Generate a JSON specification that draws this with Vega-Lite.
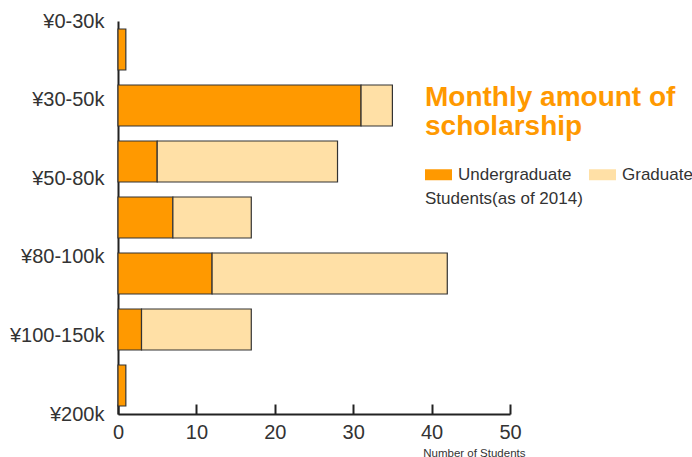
{
  "$schema": "https://vega.github.io/schema/vega-lite/v6.json",
  "width": 392,
  "height": 393,
  "autosize": {"type": "none"},
  "padding": {"left": 118, "top": 21, "right": 182, "bottom": 43},
  "background": "white",
  "config": {"view": {"stroke": null}, "font": "Liberation Sans"},
  "title": {
    "text": ["Monthly amount of", "scholarship"],
    "anchor": "start",
    "frame": "group",
    "orient": "top",
    "dx": 307,
    "dy": 134,
    "fontSize": 28,
    "fontWeight": "bold",
    "color": "#FF9900",
    "lineHeight": 29,
    "font": "Liberation Sans"
  },
  "datasets": {
    "bars": [
      {"range": "¥0-30k", "level": "Undergraduate", "students": 1},
      {"range": "¥0-30k", "level": "Graduate", "students": 0},
      {"range": "¥30-50k", "level": "Undergraduate", "students": 31},
      {"range": "¥30-50k", "level": "Graduate", "students": 4},
      {"range": "¥50-80k", "level": "Undergraduate", "students": 5},
      {"range": "¥50-80k", "level": "Graduate", "students": 23},
      {"range": "¥80-100k", "level": "Undergraduate", "students": 7},
      {"range": "¥80-100k", "level": "Graduate", "students": 10},
      {"range": "¥100-150k", "level": "Undergraduate", "students": 12},
      {"range": "¥100-150k", "level": "Graduate", "students": 30},
      {"range": "¥150-200k", "level": "Undergraduate", "students": 3},
      {"range": "¥150-200k", "level": "Graduate", "students": 14},
      {"range": "¥200k", "level": "Undergraduate", "students": 1},
      {"range": "¥200k", "level": "Graduate", "students": 0}
    ],
    "labels": [
      {"label": "¥0-30k"},
      {"label": "¥30-50k"},
      {"label": "¥50-80k"},
      {"label": "¥80-100k"},
      {"label": "¥100-150k"},
      {"label": "¥200k"}
    ]
  },
  "layer": [
    {
      "data": {"name": "bars"},
      "transform": [{"filter": "datum.students > 0"}],
      "mark": {"type": "bar", "stroke": "#333", "strokeWidth": 1.2},
      "encoding": {
        "y": {
          "field": "range",
          "type": "nominal",
          "sort": null,
          "scale": {"paddingInner": 0.268, "paddingOuter": 0.143},
          "axis": null
        },
        "x": {
          "field": "students",
          "type": "quantitative",
          "stack": "zero",
          "scale": {"domain": [0, 50]},
          "axis": {
            "values": [0, 10, 20, 30, 40, 50],
            "title": "Number of Students",
            "titleFontSize": 11.5,
            "titleFontWeight": "normal",
            "titleColor": "#333",
            "titleX": 407,
            "titleY": 42,
            "titleAlign": "right",
            "titleBaseline": "alphabetic",
            "labelFontSize": 20,
            "labelColor": "#333",
            "labelFlush": false,
            "labelPadding": 18,
            "tickColor": "#222",
            "tickWidth": 2,
            "tickSize": -10,
            "domainColor": "#222",
            "domainWidth": 2,
            "grid": false
          }
        },
        "color": {
          "field": "level",
          "type": "nominal",
          "scale": {"domain": ["Undergraduate", "Graduate"], "range": ["#FF9900", "#FFE0A6"]},
          "legend": {
            "orient": "none",
            "legendX": 307,
            "legendY": 140,
            "direction": "horizontal",
            "title": "Students(as of 2014)",
            "titleOrient": "bottom",
            "titleAnchor": "start",
            "titleFontSize": 17,
            "titleFontWeight": "normal",
            "titleColor": "#333",
            "titlePadding": 8,
            "labelFontSize": 17,
            "labelColor": "#333",
            "symbolType": "M-1,-0.407H1V0.407H-1Z",
            "symbolSize": 729,
            "symbolStrokeWidth": 0,
            "symbolOpacity": 1,
            "labelOffset": 6,
            "columnPadding": 17
          }
        },
        "order": {"field": "level", "sort": "descending"}
      }
    },
    {
      "data": {"name": "labels"},
      "mark": {"type": "point", "opacity": 0},
      "encoding": {
        "y": {
          "field": "label",
          "type": "ordinal",
          "sort": null,
          "scale": {"type": "point", "padding": 0},
          "axis": {
            "orient": "left",
            "title": null,
            "ticks": false,
            "domain": true,
            "domainColor": "#222",
            "domainWidth": 2,
            "labelFontSize": 20,
            "labelColor": "#333",
            "labelPadding": 14,
            "grid": false
          }
        }
      }
    }
  ],
  "resolve": {"scale": {"y": "independent"}, "axis": {"y": "independent"}}
}
